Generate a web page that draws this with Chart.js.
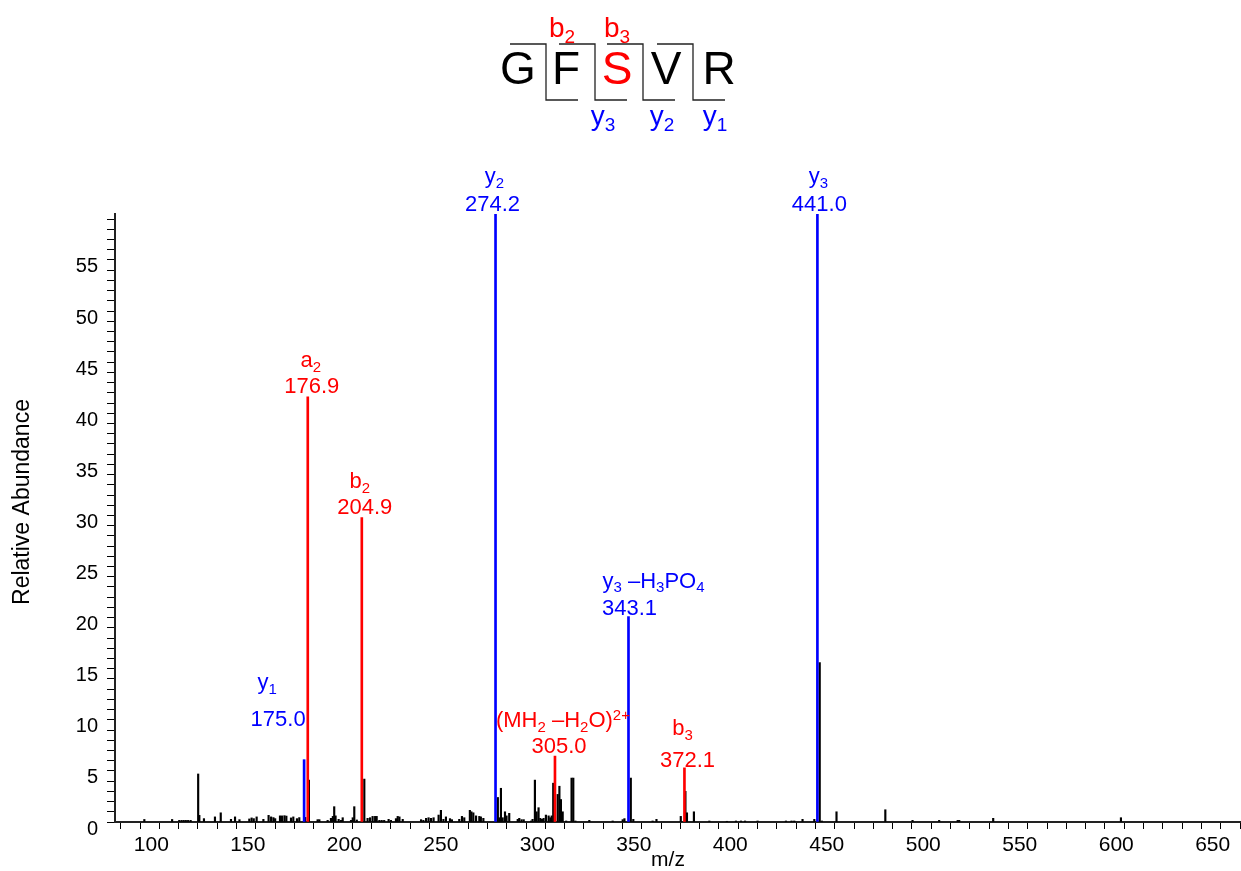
<!DOCTYPE html>
<html>
<head>
<meta charset="utf-8">
<script src="https://cdn.jsdelivr.net/npm/chart.js@4.4.1/dist/chart.umd.min.js"></script>
<style>
  body { margin: 0; background: #fff; }
  #wrap { width: 1241px; height: 871px; }
</style>
</head>
<body>
<div id="wrap"><canvas id="spectrum" width="1241" height="871"></canvas></div>
<script>
// peptide sequence and fragment names shown at the top
const sequence = ['G', 'F', 'S', 'V', 'R'];
const siteIndex = 2; // the S is drawn red
const bNames = ['b_2', 'b_3'];
const yNames = ['y_3', 'y_2', 'y_1'];

// annotated peaks (blue = y series, red = b/a series)
const blueMz = [175.0, 274.2, 343.1, 441.0];
const blueInt = [6.1, 59.5, 20.1, 59.5];
const blueNames = ['y_1', 'y_2', 'y_3 –H_3PO_4', 'y_3'];

const redMz = [176.9, 204.9, 305.0, 372.1];
const redInt = [41.6, 29.8, 6.45, 5.3];
const redNames = ['a_2', 'b_2', '(MH_2 –H_2O)^{2+}', 'b_3'];

// unannotated peaks
const noiseMz = [
  92.2, 106.6, 110.3, 111.5, 112.6, 113.7, 114.9, 116.2, 120.1, 120.7,
  123.1, 128.8, 131.8, 137.1, 139.2, 141.5, 146.6, 147.8, 148.9, 150.4,
  153.9, 156.6, 157.9, 159.1, 160.0, 162.5, 163.5, 164.8, 165.8, 168.2,
  169.4, 171.3, 172.5, 175.6, 177.5, 182.0, 182.9, 187.2, 188.9, 189.9,
  190.6, 191.3, 192.9, 194.1, 195.0, 199.3, 200.2, 201.0, 202.3, 206.2,
  207.9, 209.2, 210.5, 211.8, 212.6, 214.0, 215.2, 216.5, 218.8, 220.0,
  222.6, 223.5, 224.4, 226.1, 235.6, 236.8, 238.2, 239.5, 240.8, 242.1,
  244.7, 245.9, 247.2, 248.5, 250.6, 251.6, 255.4, 256.8, 258.0, 260.9,
  261.7, 262.7, 264.1, 265.8, 266.6, 267.9, 275.4, 276.2, 277.0, 277.9,
  279.1, 279.9, 281.3, 285.7, 286.5, 287.7, 288.8, 292.6, 293.4, 294.6,
  295.5, 296.5, 297.4, 298.3, 299.1, 300.3, 301.7, 302.6, 303.3, 304.1,
  306.4, 307.3, 308.1, 309.0, 310.8, 313.6, 314.5, 315.6, 322.8, 334.9,
  340.1, 341.0, 344.3, 345.6, 355.6, 357.6, 370.2, 372.6, 373.4, 377.0,
  385.0, 394.1, 398.8, 401.4, 403.5, 410.0, 424.7, 427.6, 429.0, 433.3,
  439.4, 442.2, 443.3, 450.9, 476.2, 490.3, 504.1, 513.7, 514.5, 532.1,
  598.3
];
const noiseInt = [
  0.25, 0.25, 0.16, 0.16, 0.16, 0.16, 0.16, 0.16, 4.7, 0.65,
  0.33, 0.5, 0.9, 0.26, 0.5, 0.23, 0.3, 0.4, 0.33, 0.5,
  0.26, 0.65, 0.5, 0.43, 0.33, 0.6, 0.6, 0.62, 0.58, 0.4,
  0.5, 0.33, 0.43, 0.45, 4.1, 0.23, 0.23, 0.16, 0.36, 0.55,
  1.5, 0.6, 0.26, 0.16, 0.42, 0.16, 0.42, 1.5, 0.2, 4.2,
  0.36, 0.42, 0.55, 0.55, 0.55, 0.16, 0.16, 0.16, 0.26, 0.16,
  0.33, 0.55, 0.5, 0.26, 0.23, 0.16, 0.36, 0.42, 0.36, 0.42,
  0.68, 1.14, 0.26, 0.5, 0.33, 0.23, 0.26, 0.55, 0.42, 1.14,
  1.0, 0.9, 0.6, 0.55, 0.5, 0.36, 2.4, 0.42, 3.3, 0.42,
  1.0, 0.6, 0.85, 0.26, 0.36, 0.23, 0.23, 0.1, 0.26, 4.1,
  1.0, 1.4, 0.36, 0.26, 0.36, 0.68, 0.6, 0.42, 0.6, 3.8,
  2.7, 3.5, 2.2, 1.0, 0.1, 4.3, 4.3, 0.1, 0.16, 0.1,
  0.23, 0.33, 4.3, 0.26, 0.1, 0.26, 0.55, 3.0, 0.9, 1.0,
  0.1, 0.07, 0.1, 0.1, 0.1, 0.1, 0.1, 0.1, 0.1, 0.26,
  0.26, 15.6, 0.1, 1.0, 1.2, 0.16, 0.16, 0.16, 0.16, 0.36,
  0.42
];

const xMin = 77, xMax = 660, xStep = 10, xLabelEvery = 50;
const yMin = 0, yMax = 59.5, yStep = 1, yLabelEvery = 5;
const xTitle = 'm/z';
const yTitle = 'Relative Abundance';

// label placement around each annotated peak: [dx line1, dy line1, dx line2, dy line2]
const blueLabelPos = [[-37, -71, -26, -34], [-1, -31, -3, -3], [25, -29, 1, -2], [1, -31, 2, -3]];
const redLabelPos = [[3, -30, 4, -4], [-2, -29, 3, -3], [8, -29, 4, -3], [-2, -33, 3, -1]];

const FONT = '"Liberation Sans", Arial, sans-serif';
const BLUE = '#0000ff';
const RED = '#ff0000';

Chart.defaults.font.family = FONT;
Chart.defaults.color = '#000';

function parseRich(s) {
  const out = [];
  let buf = '', i = 0;
  while (i < s.length) {
    const c = s[i];
    if (c === '_' || c === '^') {
      if (buf) { out.push({ t: buf, k: 'n' }); buf = ''; }
      let txt;
      if (s[i + 1] === '{') {
        const j = s.indexOf('}', i);
        txt = s.slice(i + 2, j);
        i = j + 1;
      } else {
        txt = s[i + 1];
        i += 2;
      }
      out.push({ t: txt, k: c === '_' ? 'sub' : 'sup' });
    } else {
      buf += c;
      i++;
    }
  }
  if (buf) out.push({ t: buf, k: 'n' });
  return out;
}

function drawRich(ctx, s, cx, baseY, size, color) {
  const parts = parseRich(s);
  const small = Math.round(size * 0.68);
  const fontOf = k => `${k === 'n' ? size : small}px ${FONT}`;
  let w = 0;
  parts.forEach(p => {
    ctx.font = fontOf(p.k);
    p.w = ctx.measureText(p.t).width;
    w += p.w;
  });
  let x = cx - w / 2;
  ctx.fillStyle = color;
  ctx.textAlign = 'left';
  ctx.textBaseline = 'alphabetic';
  parts.forEach(p => {
    ctx.font = fontOf(p.k);
    const dy = p.k === 'sub' ? size * 0.22 : p.k === 'sup' ? -size * 0.33 : 0;
    ctx.fillText(p.t, x, baseY + dy);
    x += p.w;
  });
}

// --- top sequence layout (pixels) ---
const seqX = [518, 566, 617, 666, 719];
const seqBase = 84;
const cutX = [546, 595, 643, 693];
const cutTop = 44, cutBottom = 100, armLeft = 36, armRight = 32;
const bLabelX = [562, 617], bLabelBase = 37;
const yLabelX = [603, 662, 715], yLabelBase = 125;

const annotate = {
  id: 'annotate',
  afterDatasetsDraw(chart) {
    const { ctx, scales: { x, y } } = chart;
    ctx.save();

    const labelSet = (mz, vals, names, pos, color) => mz.forEach((m, i) => {
      const px = x.getPixelForValue(m);
      const py = y.getPixelForValue(Math.min(vals[i], y.max));
      const o = pos[i];
      drawRich(ctx, names[i], px + o[0], py + o[1], 22, color);
      drawRich(ctx, m.toFixed(1), px + o[2], py + o[3], 22, color);
    });
    labelSet(blueMz, blueInt, blueNames, blueLabelPos, BLUE);
    labelSet(redMz, redInt, redNames, redLabelPos, RED);

    // sequence letters
    ctx.font = `46px ${FONT}`;
    ctx.textAlign = 'center';
    ctx.textBaseline = 'alphabetic';
    sequence.forEach((aa, i) => {
      ctx.fillStyle = i === siteIndex ? RED : '#000';
      ctx.fillText(aa, seqX[i], seqBase);
    });

    // cleavage markers
    ctx.strokeStyle = '#222';
    ctx.lineWidth = 1.3;
    cutX.forEach(cx => {
      ctx.beginPath();
      ctx.moveTo(cx - armLeft, cutTop);
      ctx.lineTo(cx, cutTop);
      ctx.lineTo(cx, cutBottom);
      ctx.lineTo(cx + armRight, cutBottom);
      ctx.stroke();
    });

    bNames.forEach((n, i) => drawRich(ctx, n, bLabelX[i], bLabelBase, 28, RED));
    yNames.forEach((n, i) => drawRich(ctx, n, yLabelX[i], yLabelBase, 28, BLUE));

    // axis titles
    ctx.fillStyle = '#000';
    ctx.textAlign = 'center';
    ctx.textBaseline = 'middle';
    ctx.font = `21px ${FONT}`;
    ctx.fillText(xTitle, 668, 860);
    ctx.translate(23, 502);
    ctx.rotate(-Math.PI / 2);
    ctx.font = `23px ${FONT}`;
    ctx.fillText(yTitle, 0, 0);

    ctx.restore();
  }
};

const toPoints = (mz, vals) => mz.map((m, i) => ({ x: m, y: vals[i] }));

new Chart(document.getElementById('spectrum'), {
  type: 'bar',
  data: {
    datasets: [
      { data: toPoints(blueMz, blueInt), backgroundColor: BLUE, barThickness: 2, grouped: false, borderWidth: 0 },
      { data: toPoints(redMz, redInt), backgroundColor: RED, barThickness: 2, grouped: false, borderWidth: 0 },
      { data: toPoints(noiseMz, noiseInt), backgroundColor: '#000', barThickness: 1.5, grouped: false, borderWidth: 0 }
    ]
  },
  options: {
    responsive: false,
    animation: false,
    devicePixelRatio: 1,
    layout: { padding: { top: 214, right: 1, left: 0, bottom: 0 } },
    plugins: { legend: { display: false }, tooltip: { enabled: false } },
    scales: {
      x: {
        type: 'linear',
        min: xMin,
        max: xMax,
        offset: false,
        grid: { drawOnChartArea: false, offset: false, tickLength: 7, color: '#000', lineWidth: 1 },
        border: { color: '#222', width: 2 },
        ticks: {
          stepSize: xStep,
          autoSkip: false,
          maxRotation: 0,
          includeBounds: false,
          labelOffset: -8,
          padding: 4,
          color: '#000',
          font: { size: 21 },
          callback: v => (v % xLabelEvery === 0 ? v : '')
        },
        afterFit: s => {
          s.height = 49;
          s.paddingLeft = 0;
          s.paddingRight = 1;
        }
      },
      y: {
        min: yMin,
        max: yMax,
        grid: { drawOnChartArea: false, tickLength: 8, color: '#000', lineWidth: 1 },
        border: { color: '#222', width: 2 },
        ticks: {
          stepSize: yStep,
          autoSkip: false,
          includeBounds: false,
          labelOffset: 7,
          padding: 9,
          color: '#000',
          font: { size: 20 },
          callback: v => (v % yLabelEvery === 0 ? v : '')
        },
        afterFit: s => { s.width = 115; }
      }
    }
  },
  plugins: [annotate]
});
</script>
</body>
</html>
